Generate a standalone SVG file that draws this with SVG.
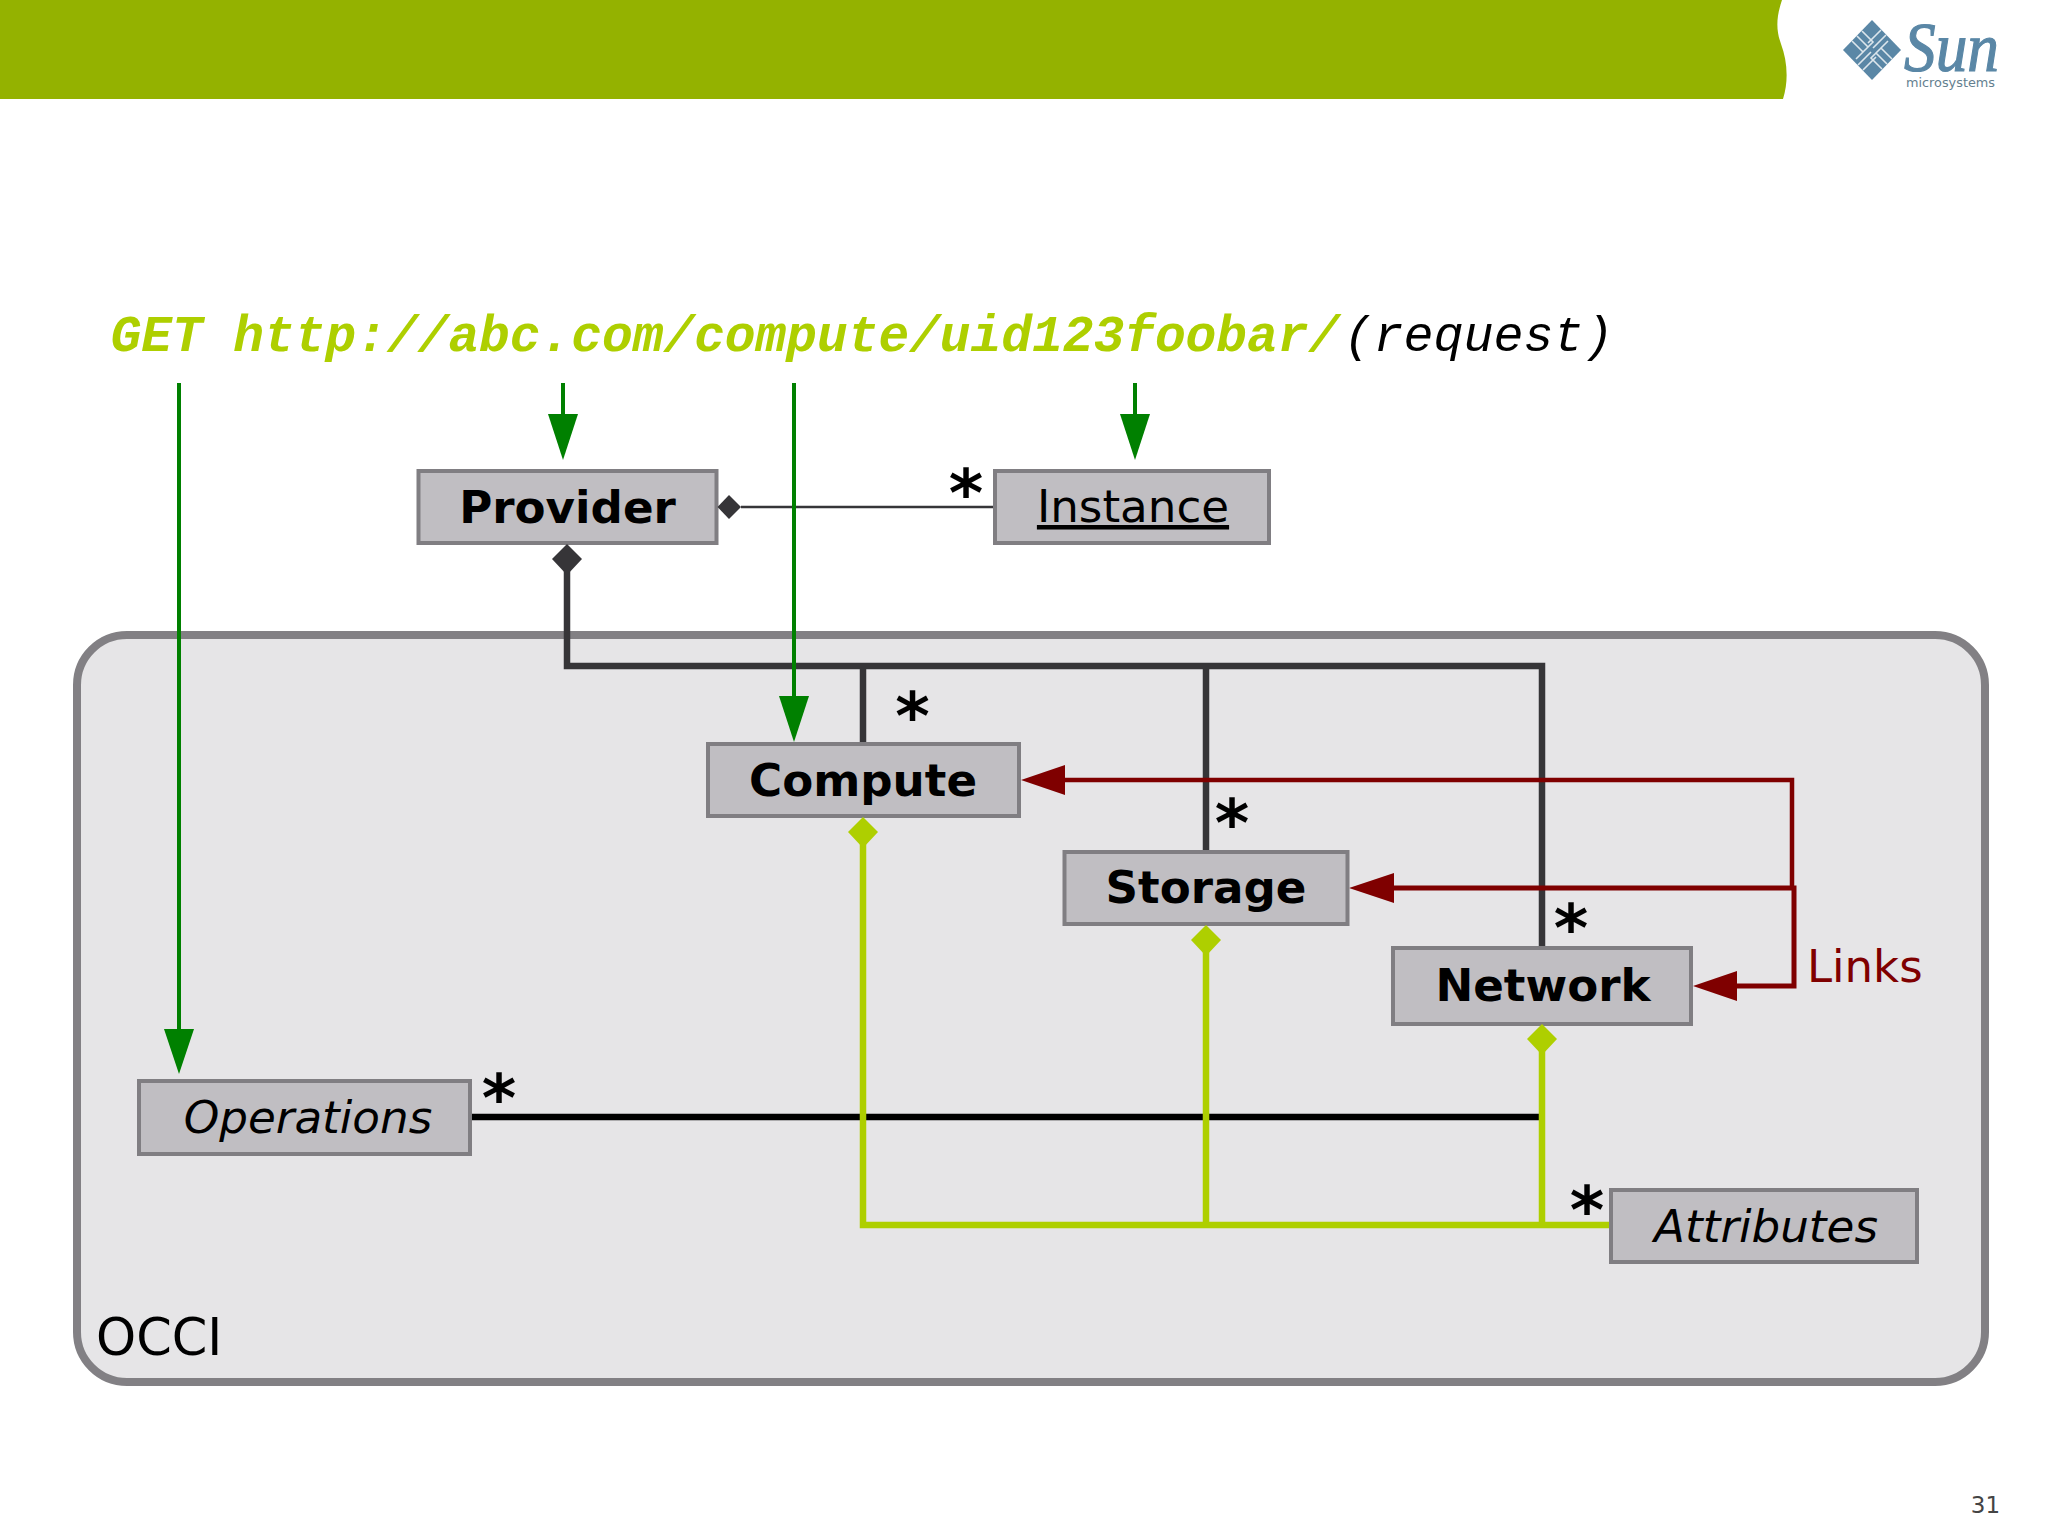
<svg xmlns="http://www.w3.org/2000/svg" width="2048" height="1536" viewBox="0 0 2048 1536">
<style>
.box{fill:#c0bec2;stroke:#807e82;stroke-width:4}
.lbl{font-family:"DejaVu Sans",sans-serif;font-size:45.200px;text-anchor:middle;fill:#000}
.b{font-weight:bold}
.i{font-style:italic}
.star{font-family:"DejaVu Sans",sans-serif;font-weight:bold;font-size:66px;text-anchor:middle;fill:#000}
.dark{fill:none;stroke:#363538;stroke-width:6.500}
.lime{fill:none;stroke:#aecf00;stroke-width:6.500}
.red{fill:none;stroke:#7f0000;stroke-width:4.500}
.green{fill:none;stroke:#008000;stroke-width:4}
.url{font-family:"Liberation Mono",monospace;font-size:51.200px;font-weight:bold;font-style:italic;fill:#aecf00}
.logo{fill:#5a87a6}
</style>
<rect width="2048" height="1536" fill="#fff"/>
<path d="M0 0H1782C1776 18 1776 30 1781 44C1787 60 1789 80 1783 99H0Z" fill="#94b200"/>
<g id="logo">
<path class="logo" d="M1872 20L1901 50L1872 80L1843 50Z"/>
<g stroke="#dce6ec" stroke-width="1.600" fill="none">
<path d="M1852 41L1863 52L1856 59M1857 36L1868 47L1861 54M1862 31L1873 42L1866 49"/>
<path d="M1892 59L1881 48L1888 41M1887 64L1876 53L1883 46M1882 69L1871 58L1878 51"/>
<path d="M1881 30L1868 43M1886 35L1873 48"/>
<path d="M1863 70L1876 57M1858 65L1871 52"/>
</g>
<text x="1904" y="71" font-family="'Liberation Serif',serif" font-style="italic" font-size="70" class="logo" stroke="#5a87a6" stroke-width="1.200" textLength="95" lengthAdjust="spacingAndGlyphs">Sun</text>
<text x="1906" y="87" font-family="'DejaVu Sans',sans-serif" font-size="13" fill="#64808f" textLength="89" lengthAdjust="spacingAndGlyphs">microsystems</text>
</g>
<rect id="occi-frame" x="77" y="635" width="1908" height="747" rx="50" ry="50" fill="#e6e5e7" stroke="#828084" stroke-width="8"/>
<text x="96" y="1355" font-family="'DejaVu Sans',sans-serif" font-size="51" fill="#000">OCCI</text>
<text id="request" x="110.500" y="351" class="url">GET http://abc.com/compute/uid123foobar/<tspan x="1343.500" fill="#000" font-weight="normal" font-size="50">(request)</tspan></text>
<g id="connectors">
<path class="dark" d="M567 570V666H1542V946M863 666V742M1206 666V850"/>
<path d="M741 507H993" fill="none" stroke="#363538" stroke-width="2.500"/>
<path d="M472 1117H1539" fill="none" stroke="#000" stroke-width="6.500"/>
<path class="lime" d="M863 843V1225H1610M1206 950V1225M1542 1050V1225"/>
<path class="red" d="M1063 780H1792V888"/>
<path class="red" style="stroke-width:5" d="M1392 888H1794V986H1735"/>
<path class="green" d="M179 383V1032M563 383V416M794 383V698M1135 383V416"/>
<g fill="#008000">
<path d="M164 1029H194L179 1074Z"/>
<path d="M548 414H578L563 460Z"/>
<path d="M779 696H809L794 742Z"/>
<path d="M1120 414H1150L1135 460Z"/>
</g>
<g fill="#7f0000">
<path d="M1021 780L1065 765V795Z"/>
<path d="M1349 888L1394 873V903Z"/>
<path d="M1693 986L1737 971V1001Z"/>
</g>
</g>
<g id="provider"><rect class="box" x="418.500" y="471" width="298" height="72"/><text class="lbl b" x="567.500" y="523">Provider</text></g>
<g id="instance"><rect class="box" x="995" y="471" width="274" height="72"/><text class="lbl" x="1133" y="522" text-decoration="underline">Instance</text></g>
<g id="compute"><rect class="box" x="708" y="744" width="311" height="72"/><text class="lbl b" x="863" y="796">Compute</text></g>
<g id="storage"><rect class="box" x="1064.500" y="852" width="283" height="72"/><text class="lbl b" x="1206" y="903">Storage</text></g>
<g id="network"><rect class="box" x="1393" y="948" width="298" height="76"/><text class="lbl b" x="1543" y="1001">Network</text></g>
<g id="operations"><rect class="box" x="139" y="1081" width="331" height="73"/><text class="lbl i" x="308" y="1133">Operations</text></g>
<g id="attributes"><rect class="box" x="1611" y="1190" width="306" height="72"/><text class="lbl i" x="1766" y="1242">Attributes</text></g>
<g id="diamonds">
<g fill="#363538">
<path d="M567 544L582 559L567 575L552 559Z"/>
<path d="M717.500 507L729 495L741 507L729 519Z"/>
</g>
<g fill="#aecf00">
<path d="M863 817L878 832L863 848L848 832Z"/>
<path d="M1206 925L1221 940L1206 956L1191 940Z"/>
<path d="M1542 1024L1557 1039L1542 1055L1527 1039Z"/>
</g>
</g>
<g id="stars">
<text class="star" x="966" y="516">*</text>
<text class="star" x="912.500" y="739">*</text>
<text class="star" x="1232" y="846">*</text>
<text class="star" x="1571" y="951">*</text>
<text class="star" x="499" y="1121">*</text>
<text class="star" x="1587" y="1233">*</text>
</g>
<text id="links" x="1807" y="982" font-family="'DejaVu Sans',sans-serif" font-size="45" fill="#7f0000">Links</text>
<text id="page" x="1985.500" y="1513" font-family="'DejaVu Sans',sans-serif" font-size="23" fill="#444" text-anchor="middle">31</text>
</svg>
